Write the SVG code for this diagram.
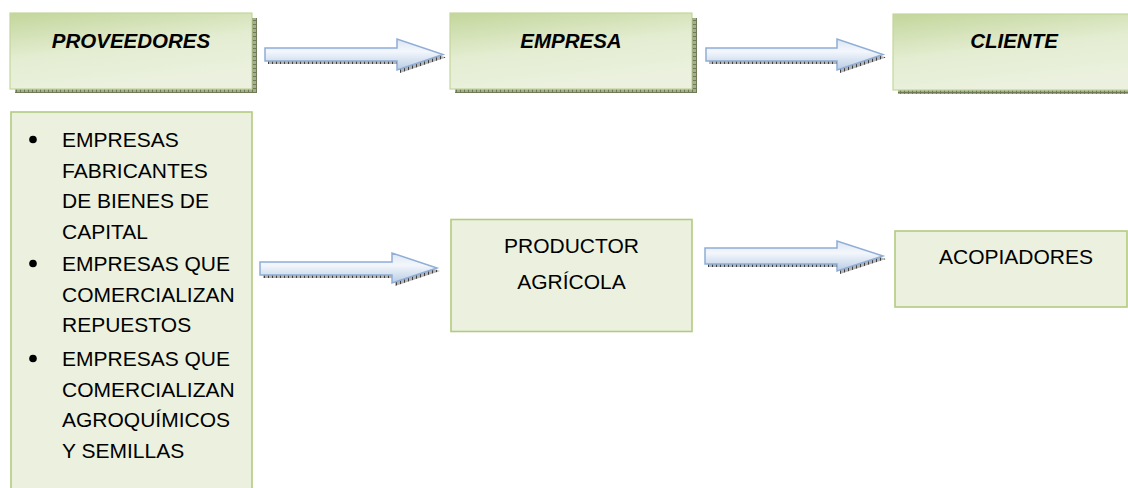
<svg xmlns="http://www.w3.org/2000/svg" width="1128" height="488" viewBox="0 0 1128 488">
  <style>
    .t { font-family: "Liberation Sans", Arial, sans-serif; font-size: 21px; fill: #000; }
    .h { font-weight: bold; font-style: italic; font-size: 20.5px; }
    .top { fill: url(#gGreen); stroke: #C3D69B; stroke-width: 1.2; }
    .low { fill: #EBF1DE; stroke: #B3CB80; stroke-width: 1.6; }
    .arr { fill: url(#gBlue); stroke: #8FADD6; stroke-width: 1.5; stroke-linejoin: miter; }
    .ash { fill: url(#hatch); }
    .bsh { fill: url(#hatchG); }
  </style>
  <defs>
    <linearGradient id="gGreen" x1="0" y1="0" x2="0.35" y2="1">
      <stop offset="0" stop-color="#C3D69B"/>
      <stop offset="0.55" stop-color="#E4EDD2"/>
      <stop offset="1" stop-color="#EBF1DE"/>
    </linearGradient>
    <linearGradient id="gBlue" x1="0" y1="0" x2="0" y2="1">
      <stop offset="0" stop-color="#DCE6F2"/>
      <stop offset="0.4" stop-color="#F3F7FC"/>
      <stop offset="1" stop-color="#B8CCE4"/>
    </linearGradient>
    <pattern id="hatch" width="4" height="4" patternUnits="userSpaceOnUse">
      <rect width="4" height="4" fill="#B5B5B5"/>
      <rect width="1" height="4" fill="#404040"/>
    </pattern>
    <pattern id="hatchG" width="4" height="4" patternUnits="userSpaceOnUse">
      <rect width="4" height="4" fill="#A4AE8C"/>
      <rect width="1" height="4" fill="#6E7A58"/>
      <rect width="4" height="1" fill="#6E7A58"/>
    </pattern>
  </defs>

  <g id="connectors">
    <g id="arrow-top-1">
      <path class="ash" d="M268,51 H400 V42 L446,57.5 L400,73 V64 H268 Z"/>
      <path class="arr" d="M265,48 H397 V39 L443,54.5 L397,70 V61 H265 Z"/>
    </g>
    <g id="arrow-top-2">
      <path class="ash" d="M709,51 H840 V42 L886,57.5 L840,73 V64 H709 Z"/>
      <path class="arr" d="M706,48 H837 V39 L883,54.5 L837,70 V61 H706 Z"/>
    </g>
    <g id="arrow-low-1">
      <path class="ash" d="M263,265 H395 V256 L440,271 L395,286 V278 H263 Z"/>
      <path class="arr" d="M260,262 H392 V253 L437,268 L392,283 V275 H260 Z"/>
    </g>
    <g id="arrow-low-2">
      <path class="ash" d="M708,251 H840 V244 L886,259 L840,274 V267 H708 Z"/>
      <path class="arr" d="M705,248 H837 V241 L883,256 L837,271 V264 H705 Z"/>
    </g>
  </g>

  <g id="node-proveedores">
    <rect class="bsh" x="252" y="18" width="5" height="75"/>
    <rect class="bsh" x="15" y="89" width="242" height="4"/>
    <rect class="top" x="10" y="13" width="242" height="76"/>
    <text class="t h" x="131" y="48" text-anchor="middle">PROVEEDORES</text>
  </g>

  <g id="node-empresa">
    <rect class="bsh" x="692" y="18" width="5" height="75"/>
    <rect class="bsh" x="455" y="89" width="242" height="4"/>
    <rect class="top" x="450" y="13" width="242" height="76"/>
    <text class="t h" x="571" y="48" text-anchor="middle">EMPRESA</text>
  </g>

  <g id="node-cliente">
    <rect class="bsh" x="898" y="90" width="242" height="4"/>
    <rect class="top" x="893" y="14" width="242" height="76"/>
    <text class="t h" x="1014" y="48" text-anchor="middle">CLIENTE</text>
  </g>

  <g id="node-lista">
    <rect class="low" x="11" y="112" width="241" height="390"/>
    <circle cx="33" cy="139.5" r="3.8"/>
    <circle cx="33" cy="263.5" r="3.8"/>
    <circle cx="33" cy="358.5" r="3.8"/>
    <text class="t" x="62" y="147">EMPRESAS</text>
    <text class="t" x="62" y="177.5">FABRICANTES</text>
    <text class="t" x="62" y="208">DE BIENES DE</text>
    <text class="t" x="62" y="238.5">CAPITAL</text>
    <text class="t" x="62" y="270.7">EMPRESAS QUE</text>
    <text class="t" x="62" y="301.5">COMERCIALIZAN</text>
    <text class="t" x="62" y="332.2">REPUESTOS</text>
    <text class="t" x="62" y="365.5">EMPRESAS QUE</text>
    <text class="t" x="62" y="396.5">COMERCIALIZAN</text>
    <text class="t" x="62" y="427.3">AGROQUÍMICOS</text>
    <text class="t" x="62" y="458">Y SEMILLAS</text>
  </g>

  <g id="node-productor">
    <rect class="low" x="451" y="219.5" width="241" height="112"/>
    <text class="t" x="571.5" y="253.3" text-anchor="middle">PRODUCTOR</text>
    <text class="t" x="571.5" y="289.3" text-anchor="middle">AGRÍCOLA</text>
  </g>

  <g id="node-acopiadores">
    <rect class="low" x="895" y="231" width="232" height="76"/>
    <text class="t" x="1016" y="264" text-anchor="middle">ACOPIADORES</text>
  </g>
</svg>
